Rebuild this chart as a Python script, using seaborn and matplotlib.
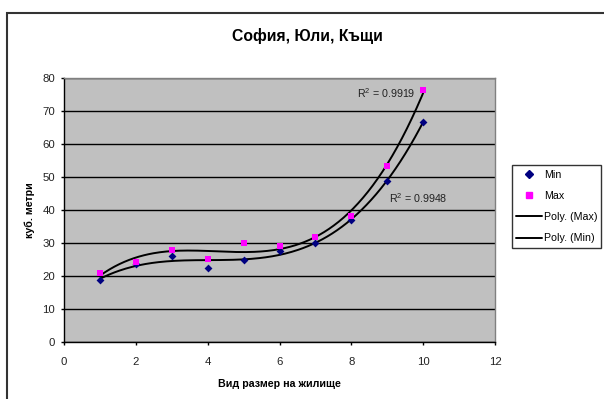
import numpy as np
import pandas as pd
import matplotlib
matplotlib.use("Agg")
import matplotlib.pyplot as plt
import seaborn as sns
from matplotlib.patches import Rectangle
from matplotlib.lines import Line2D

# Data
x_vals = [1, 2, 3, 4, 5, 6, 7, 8, 9, 10]
min_vals = [18.7, 23.5, 26.2, 22.3, 25.0, 27.5, 30.1, 37.0, 48.9, 66.7]
max_vals = [21.0, 24.3, 27.9, 25.2, 30.0, 29.1, 31.9, 38.3, 53.3, 76.3]
title = "София, Юли, Къщи"
xlabel = "Вид размер на жилище"
ylabel = "куб. метри"
series_names = ["Min", "Max", "Poly. (Max)", "Poly. (Min)"]
r2_labels = {"Max": "R$^2$ = 0.9919", "Min": "R$^2$ = 0.9948"}

sns.set_style("white")
plt.rcParams['font.family'] = ['Liberation Sans', 'DejaVu Sans']
plt.rcParams['mathtext.fontset'] = 'custom'
plt.rcParams['mathtext.rm'] = 'Liberation Sans'
plt.rcParams['text.color'] = 'black'
plt.rcParams['axes.labelcolor'] = 'black'

df = pd.DataFrame({"x": x_vals, "Min": min_vals, "Max": max_vals})

fig = plt.figure(figsize=(6.04, 3.99), dpi=100)
ax = fig.add_axes([64/604, 1-342/399, (495-64)/604, (342-78)/399])
ax.set_facecolor("#C0C0C0")

# Chart area border (left/top visible)
fig.patches.append(Rectangle((7/604, -0.1), 1.2, 1-13/399+0.1, transform=fig.transFigure,
                             fill=False, edgecolor="#333333", lw=1.5, zorder=0))

# cubic polynomial trendlines
xs = np.linspace(1, 10, 200)
for name in ["Max", "Min"]:
    c = np.polyfit(df["x"], df[name], 3)
    sns.lineplot(x=xs, y=np.polyval(c, xs), ax=ax, color="black", lw=1.4, zorder=3)

sns.scatterplot(data=df, x="x", y="Min", ax=ax, marker="D", color="#000080", s=16,
                edgecolor="#000080", linewidth=0, zorder=4)
sns.scatterplot(data=df, x="x", y="Max", ax=ax, marker="s", color="#FF00FF", s=22,
                edgecolor="#FF00FF", linewidth=0, zorder=4)

ax.set_xlim(0, 12)
ax.set_ylim(0, 80)
ax.set_xticks(range(0, 13, 2))
ax.set_yticks(range(0, 81, 10))
ax.yaxis.grid(True, color="black", lw=1)
ax.set_axisbelow(True)
for s in ["top", "right"]:
    ax.spines[s].set_color("#808080")
    ax.spines[s].set_linewidth(1)
for s in ["left", "bottom"]:
    ax.spines[s].set_color("black")
    ax.spines[s].set_linewidth(1)
ax.tick_params(axis="both", which="both", bottom=True, left=True, direction="out",
               length=2.5, width=1, color="black", labelsize=8.2, labelcolor="#222222")
ax.tick_params(axis="y", pad=4)
ax.tick_params(axis="x", pad=8.5)

ax.set_xlabel(xlabel, fontsize=7.7, fontweight="bold", labelpad=8.5)
ax.set_ylabel(ylabel, fontsize=7.7, fontweight="bold", labelpad=5)
fig.text(307/604, 1-36/399, title, ha="center", va="center", fontsize=11.3,
         fontweight="bold", color="black")

ax.text(8.96, 75.5, r2_labels["Max"], fontsize=7.7, ha="center", va="center", color="#222222")
ax.text(9.86, 43.6, r2_labels["Min"], fontsize=7.7, ha="center", va="center", color="#222222")

handles = [
    Line2D([], [], marker="D", color="#000080", ls="none", markersize=4.2),
    Line2D([], [], marker="s", color="#FF00FF", ls="none", markersize=5),
    Line2D([], [], color="black", lw=1.4),
    Line2D([], [], color="black", lw=1.4),
]
leg = fig.legend(handles, series_names, loc="center", bbox_to_anchor=(556.5/604, 1-206.5/399),
                 fontsize=7.7, frameon=True, fancybox=False, edgecolor="black",
                 handlelength=2.4, borderpad=0.4, labelspacing=1.05, handletextpad=0.2,
                 borderaxespad=0)
leg.get_frame().set_linewidth(1)

fig.savefig("out.png", dpi=100)
